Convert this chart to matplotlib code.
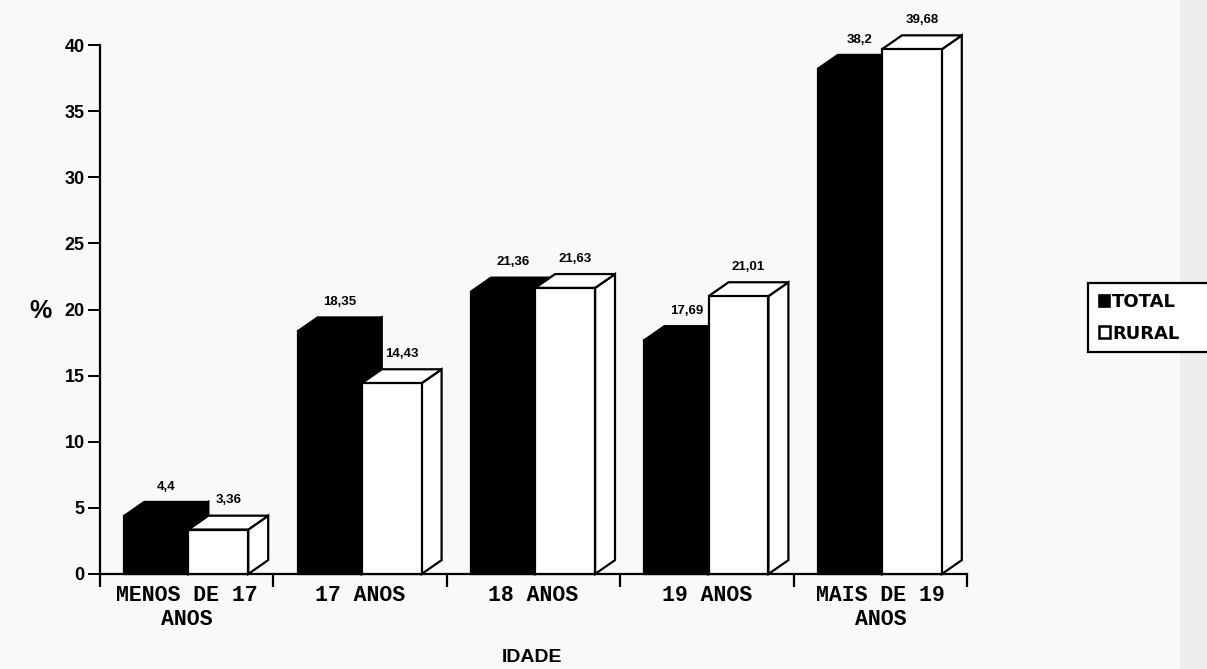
import matplotlib.pyplot as plt
from matplotlib.patches import Polygon, Patch, Rectangle

# data
categories = ["MENOS DE 17\nANOS", "17 ANOS", "18 ANOS", "19 ANOS", "MAIS DE 19\nANOS"]
total = [4.4, 18.35, 21.36, 17.69, 38.2]
rural = [3.36, 14.43, 21.63, 21.01, 39.68]
total_labels = ["4,4", "18,35", "21,36", "17,69", "38,2"]
rural_labels = ["3,36", "14,43", "21,63", "21,01", "39,68"]
yticks = [0, 5, 10, 15, 20, 25, 30, 35, 40]

fig = plt.figure(figsize=(12.07, 6.69), dpi=100)
fig.patch.set_facecolor("#f9f9f9")
ax = fig.add_axes([100 / 1207, 1 - 574 / 669, 867 / 1207, 529 / 669])
ax.set_facecolor("none")

# faint scan band on the right edge
fig.patches.append(Rectangle((1180 / 1207, 0), 27 / 1207, 1, transform=fig.transFigure,
                             facecolor="#eeeeee", edgecolor="none", zorder=0))

wb = 0.37       # black bar width (category units)
ww = 0.345      # white bar width
dx = 0.115      # depth offset x
dy = 1.05       # depth offset y (value units)
lw = 1.6


def bar3d(x0, w, v, fill):
    front = [(x0, 0), (x0, v), (x0 + w, v), (x0 + w, 0)]
    top = [(x0, v), (x0 + dx, v + dy), (x0 + w + dx, v + dy), (x0 + w, v)]
    side = [(x0 + w, 0), (x0 + w + dx, dy), (x0 + w + dx, v + dy), (x0 + w, v)]
    for pts in (side, top, front):
        ax.add_patch(Polygon(pts, closed=True, facecolor=fill, edgecolor="black",
                             linewidth=lw, joinstyle="miter", clip_on=False, zorder=3))


for i in range(len(categories)):
    xb = i - 0.36
    xw = i + 0.01
    bar3d(xb, wb, total[i], "black")
    bar3d(xw, ww, rural[i], "white")
    ax.text(xb + wb / 2 + dx / 2, total[i] + 2.2, total_labels[i], ha="center", va="center",
            fontsize=9.5, fontweight="bold", family="Liberation Sans", zorder=5)
    ax.text(xw + ww / 2 + dx / 2, rural[i] + 2.2, rural_labels[i], ha="center", va="center",
            fontsize=9.5, fontweight="bold", family="Liberation Sans", zorder=5)

ax.set_xlim(-0.5, 4.5)
ax.set_ylim(0, 40)

for s in ["top", "right"]:
    ax.spines[s].set_visible(False)
for s in ["left", "bottom"]:
    ax.spines[s].set_linewidth(1.6)

ax.set_yticks(yticks)
ax.set_yticklabels([str(t) for t in yticks], fontsize=13, fontweight="bold",
                   family="Liberation Sans")
ax.tick_params(axis="y", direction="out", length=9, width=1.4, pad=2)

ax.set_xticks(range(len(categories)))
ax.set_xticklabels(categories, fontsize=15.5, fontweight="bold", family="Liberation Mono",
                   linespacing=1.2)
ax.tick_params(axis="x", which="major", length=0, pad=8)
ax.set_xticks([i - 0.5 for i in range(len(categories) + 1)], minor=True)
ax.tick_params(axis="x", which="minor", direction="out", length=9, width=1.6)

fig.text(40 / 1207, 1 - 311 / 669, "%", ha="center", va="center", fontsize=18,
         fontweight="bold", family="Liberation Sans")
fig.text(532 / 1207, 1 - 658 / 669, "IDADE", ha="center", va="center", fontsize=14,
         fontweight="bold", family="Liberation Sans")

# legend box runs off the right edge as in the scan
fig.patches.append(Rectangle((1088 / 1207, 1 - 352 / 669), 130 / 1207, 69 / 669,
                             transform=fig.transFigure, facecolor="white", edgecolor="black",
                             linewidth=1.6, zorder=1))
handles = [Patch(facecolor="black", edgecolor="black", linewidth=1.2, label="TOTAL"),
           Patch(facecolor="white", edgecolor="black", linewidth=1.8, label="RURAL")]
fig.legend(handles=handles, loc="upper left", bbox_to_anchor=(1090 / 1207, 1 - 284 / 669),
           bbox_transform=fig.transFigure, borderaxespad=0, frameon=False,
           handlelength=0.62, handleheight=0.62, handletextpad=0.1, borderpad=0.5,
           labelspacing=0.75, prop={"family": "DejaVu Sans", "weight": "bold", "size": 13})

fig.savefig("out.png", dpi=100, facecolor=fig.get_facecolor())
